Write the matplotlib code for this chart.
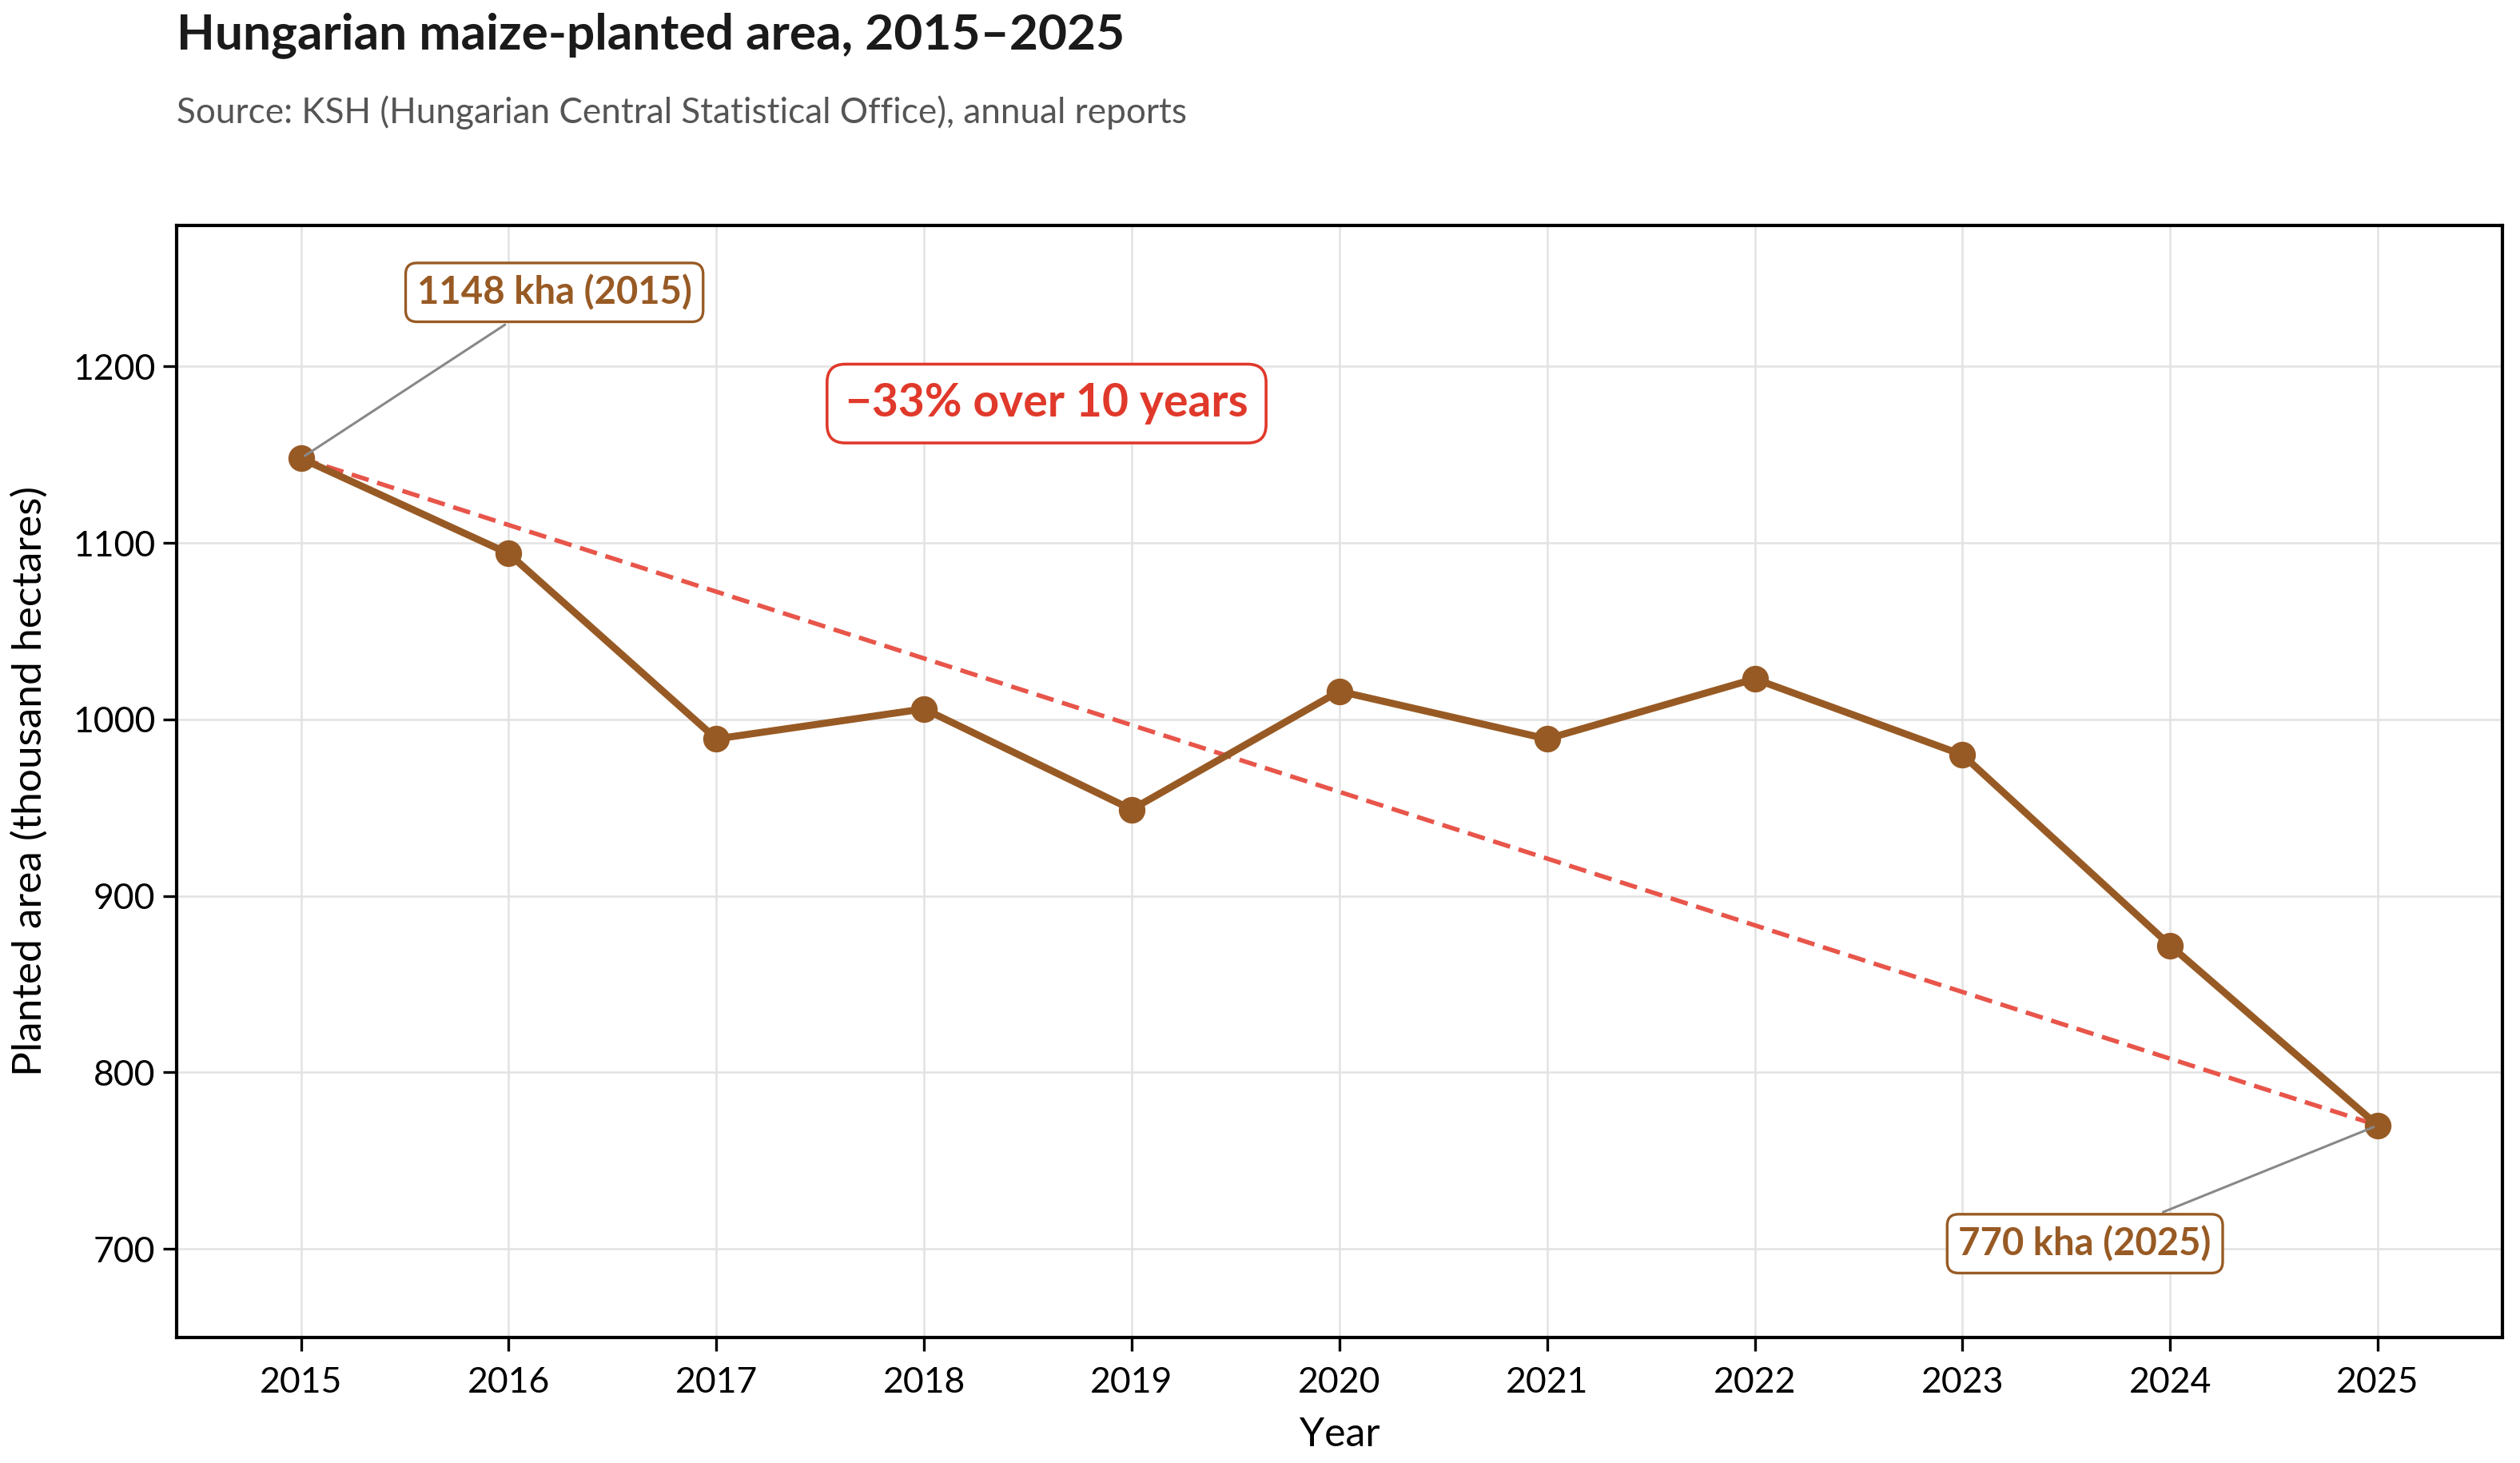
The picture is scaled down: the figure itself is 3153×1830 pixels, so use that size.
import matplotlib
matplotlib.use("Agg")
import matplotlib.pyplot as plt

plt.rcParams['font.family'] = ['Lato', 'DejaVu Sans']

years = [2015, 2016, 2017, 2018, 2019, 2020, 2021, 2022, 2023, 2024, 2025]
area = [1148, 1094, 989, 1006, 949, 1016, 989, 1023, 980, 872, 770]
yticks = [700, 800, 900, 1000, 1100, 1200]

brown = '#985A24'
red = '#E0392B'

fig = plt.figure(figsize=(15.765, 9.15), dpi=200)
ax = fig.add_axes([0.070, 0.086, 0.923, 0.760])

ax.grid(True, color='#e2e2e2', lw=0.9, zorder=0)
ax.set_axisbelow(True)

# trend line first to last
ax.plot([years[0], years[-1]], [area[0], area[-1]], ls='--', color='#E8554A',
        lw=2.0, dashes=(4, 2), zorder=2)
ax.plot(years, area, color=brown, lw=3.2, marker='o', markersize=11, zorder=3)

ax.set_xlim(2014.4, 2025.6)
ax.set_ylim(650, 1280)
ax.set_xticks(years)
ax.set_yticks(yticks)
ax.tick_params(labelsize=16, length=6, width=1.2)
ax.tick_params(axis='x', pad=7)
for s in ax.spines.values():
    s.set_linewidth(1.5)

ax.set_xlabel('Year', fontsize=18, labelpad=8)
ax.set_ylabel('Planted area (thousand hectares)', fontsize=18.5, labelpad=11)

ax.annotate(f'{area[0]} kha ({years[0]})', xy=(years[0], area[0]),
            xytext=(2016.22, 1242), ha='center', va='center',
            fontsize=17, fontweight='bold', color=brown,
            bbox=dict(boxstyle='round,pad=0.3', fc='white', ec=brown, lw=1.2),
            arrowprops=dict(arrowstyle='-', color='#888888', lw=1.1), zorder=5)
ax.annotate(f'{area[-1]} kha ({years[-1]})', xy=(years[-1], area[-1]),
            xytext=(2023.59, 703), ha='center', va='center',
            fontsize=17, fontweight='bold', color=brown,
            bbox=dict(boxstyle='round,pad=0.3', fc='white', ec=brown, lw=1.2),
            arrowprops=dict(arrowstyle='-', color='#888888', lw=1.1), zorder=5)

pct = round((area[-1] - area[0]) / area[0] * 100)
ax.text(2018.59, 1179, f'\u2212{abs(pct)}% over {years[-1] - years[0]} years',
        ha='center', va='center', fontsize=20.5, fontweight='bold', color=red,
        bbox=dict(boxstyle='round,pad=0.4', fc='white', ec=red, lw=1.3), zorder=5)

fig.text(0.070, 0.976, 'Hungarian maize-planted area, 2015\u20132025', fontsize=22.4,
         fontweight='bold', color='#1a1a1a', ha='left', va='center')
fig.text(0.070, 0.923, 'Source: KSH (Hungarian Central Statistical Office), annual reports',
         fontsize=15.9, color='#555555', ha='left', va='center')

fig.savefig('out.png', dpi=200)
